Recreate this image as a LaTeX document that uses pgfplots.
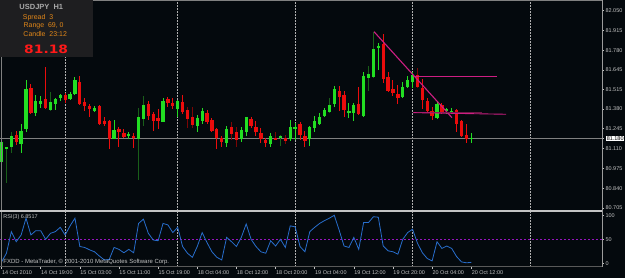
\documentclass[border=0pt]{standalone}
\usepackage{pgfplots}
\pgfplotsset{compat=1.18}
\usepackage{pgfplotstable}
\usepackage{fontspec}
\setmainfont{Liberation Sans}
\newfontfamily\labf{Liberation Sans}
\newfontfamily\bigf[FakeStretch=1.2]{DejaVu Sans}
\definecolor{bg}{RGB}{4,9,13}
\definecolor{boxc}{RGB}{30,30,32}
\definecolor{labgray}{RGB}{195,195,195}
\definecolor{gridc}{RGB}{175,175,175}
\definecolor{bullc}{RGB}{34,222,34}
\definecolor{bearc}{RGB}{235,12,12}
\definecolor{dbull}{RGB}{25,95,25}
\definecolor{dbear}{RGB}{125,5,5}
\definecolor{trend}{RGB}{205,30,130}
\definecolor{trendd}{RGB}{110,25,70}
\definecolor{rsic}{RGB}{40,110,205}
\definecolor{rsifty}{RGB}{150,20,190}
\definecolor{infoorange}{RGB}{225,135,25}
\definecolor{infored}{RGB}{255,25,25}
\definecolor{infogray}{RGB}{170,170,170}
\newcommand\tl{\labf\fontsize{5.5}{6}\selectfont}

\pgfplotstableread{
k o h l c d
-8 81.020 81.169 81.018 81.157 0
-7 81.114 81.117 80.876 81.116 1
-6 81.123 81.225 81.077 81.196 1
-4 81.144 81.276 81.082 81.230 0
-3 81.244 81.578 81.225 81.516 0
-1 81.350 81.475 81.334 81.434 0
0 81.416 81.468 81.385 81.434 0
2 81.371 81.498 81.366 81.426 1
3 81.412 81.457 81.373 81.448 0
4 81.453 81.487 81.434 81.473 0
6 81.450 81.498 81.441 81.480 0
7 81.482 81.600 81.475 81.578 0
11 81.368 81.400 81.357 81.387 0
15 81.180 81.305 81.175 81.237 0
18 81.196 81.225 81.180 81.210 0
20 81.173 81.387 80.896 81.325 1
21 81.312 81.471 81.266 81.407 1
25 81.293 81.453 81.289 81.434 0
28 81.378 81.441 81.327 81.434 0
32 81.264 81.339 81.221 81.319 0
33 81.300 81.385 81.276 81.366 0
38 81.146 81.266 81.123 81.246 0
41 81.175 81.255 81.153 81.237 0
42 81.221 81.327 81.198 81.325 0
47 81.141 81.218 81.123 81.196 0
49 81.184 81.203 81.130 81.196 1
51 81.175 81.305 81.162 81.257 0
52 81.246 81.286 81.169 81.257 0
55 81.173 81.264 81.130 81.257 0
56 81.248 81.332 81.225 81.298 0
57 81.278 81.355 81.271 81.327 0
58 81.330 81.387 81.325 81.375 0
59 81.362 81.457 81.357 81.407 1
60 81.412 81.537 81.396 81.518 0
63 81.357 81.419 81.321 81.368 0
64 81.355 81.419 81.298 81.407 0
66 81.332 81.634 81.327 81.605 0
67 81.593 81.675 81.505 81.618 1
68 81.600 81.907 81.596 81.789 1
69 81.794 81.828 81.646 81.811 0
74 81.462 81.566 81.453 81.528 0
75 81.530 81.605 81.521 81.576 0
76 81.566 81.634 81.521 81.612 0
81 81.321 81.426 81.316 81.416 0
83 81.368 81.385 81.346 81.378 0
84 81.359 81.385 81.348 81.368 0
88 81.180 81.218 81.146 81.182 0
}\bulltab

\pgfplotstableread{
k o h l c d
-5 81.203 81.230 81.135 81.153 0
-2 81.525 81.555 81.344 81.357 0
1 81.448 81.668 81.380 81.385 0
5 81.478 81.487 81.419 81.443 0
8 81.566 81.605 81.407 81.414 0
9 81.426 81.453 81.366 81.400 0
10 81.398 81.416 81.323 81.378 0
12 81.400 81.407 81.271 81.276 0
13 81.298 81.325 81.266 81.276 0
14 81.298 81.303 81.107 81.175 0
16 81.246 81.255 81.123 81.221 0
17 81.218 81.246 81.180 81.191 0
19 81.198 81.214 81.112 81.180 0
22 81.416 81.434 81.305 81.332 0
23 81.346 81.357 81.230 81.298 0
24 81.319 81.378 81.244 81.298 0
26 81.448 81.466 81.396 81.421 0
27 81.419 81.453 81.378 81.400 0
29 81.426 81.475 81.344 81.362 0
30 81.375 81.396 81.252 81.312 1
31 81.325 81.396 81.252 81.271 1
34 81.355 81.373 81.276 81.293 0
35 81.305 81.316 81.225 81.230 0
36 81.246 81.253 81.112 81.180 0
37 81.180 81.198 81.123 81.153 0
39 81.255 81.293 81.169 81.212 1
40 81.225 81.257 81.123 81.169 1
43 81.316 81.325 81.252 81.266 0
44 81.257 81.296 81.198 81.221 0
45 81.218 81.252 81.153 81.175 0
46 81.169 81.184 81.123 81.150 0
48 81.184 81.223 81.169 81.173 1
50 81.184 81.203 81.143 81.164 1
53 81.278 81.293 81.169 81.203 0
54 81.196 81.230 81.123 81.164 0
61 81.505 81.537 81.366 81.464 0
62 81.478 81.505 81.327 81.373 0
65 81.416 81.528 81.340 81.344 0
70 81.823 81.889 81.555 81.582 0
71 81.596 81.634 81.498 81.503 0
72 81.516 81.578 81.471 81.491 0
73 81.484 81.543 81.414 81.453 0
77 81.612 81.657 81.521 81.532 1
78 81.525 81.584 81.380 81.441 0
79 81.434 81.453 81.350 81.371 0
80 81.366 81.396 81.305 81.332 0
82 81.407 81.419 81.346 81.357 0
85 81.373 81.380 81.225 81.278 0
86 81.298 81.305 81.191 81.196 0
87 81.203 81.276 81.150 81.180 0
}\beartab

\pgfplotstableread{
k r
-8 3
-7 21
-6 66
-5 45
-4 59
-3 94
-2 59
-1 68
0 68
1 50
2 62.5
3 66
4 75
5 59
6 78
7 94
8 35
9 33
10 28
11 24
12 15
13 7
14 8
15 33
16 29
17 22
18 29
19 22
20 83
21 92
22 62.5
23 48.5
24 47
25 83
26 80
27 64
28 75
29 35
30 21
31 12.5
32 35
33 64
34 43
35 24
36 12.5
37 7
38 54
39 45
40 35
41 54
42 82
43 50
44 35
45 24
46 21
47 47
48 36
49 50
50 33
51 78
52 76
53 35
54 24
55 66
56 75
57 83
58 89
59 94
60 100
61 69
62 36
63 33
64 54
65 29
66 85
67 85
68 97
69 96
70 36
71 26
72 24
73 19
74 50
75 64
76 71
77 42
78 22
79 10
80 5
81 45
82 31
83 36
84 31
85 14
86 3
87 1
88 2
}\rsitab

\pgfplotsset{
  wick/.style 2 args={draw=none, mark=none, forget plot,
    restrict expr to domain={\thisrow{d}}{#2:#2},
    error bars/.cd, y dir=both, y explicit, error mark=none,
    error bar style={line width=1bp, draw=#1, solid}},
  body/.style={draw=none, mark=none, forget plot,
    error bars/.cd, y dir=both, y explicit, error mark=none,
    error bar style={line width=3.3bp, draw=#1, solid}},
}

\begin{document}
\begin{tikzpicture}[x=1bp,y=1bp]
\fill[bg] (0,0) rectangle (625,278);

\begin{axis}[
  at={(0bp,67.3bp)}, anchor=south west, scale only axis,
  width=602bp, height=210.7bp,
  xmin=-8.318, xmax=114.72, ymin=80.6866, ymax=82.1229,
  axis line style={draw=none}, clip=false,
  xtick={5,28,52,76,100}, xticklabels={}, xtick style={draw=none},
  xmajorgrids,
  grid style={gridc, dash pattern=on 1.5bp off 1.5bp, line width=0.7bp},
  ytick={80.705,80.840,80.975,81.110,81.245,81.380,81.515,81.645,81.780,81.915,82.050},
  yticklabels={80.705,80.840,80.975,81.110,81.245,81.380,81.515,81.645,81.780,81.915,82.050},
  ytick pos=right, yticklabel pos=right, tick align=outside,
  major tick length=2.2bp,
  ytick style={labgray, line width=0.6bp},
  yticklabel style={font=\tl, text=labgray, inner sep=0pt, xshift=1.2bp},
  extra y ticks={81.18}, extra y tick labels={81.180},
  extra y tick style={yticklabel style={fill=white, text=black, inner sep=0.6bp, xshift=0.6bp}},
]
\addplot[gray, line width=0.8bp, forget plot] coordinates {(-8.318,81.18) (114.72,81.18)};
% wicks
\addplot[wick={bullc}{0}] table[x=k, y expr={(\thisrow{h}+\thisrow{l})/2}, y error expr={(\thisrow{h}-\thisrow{l})/2}] {\bulltab};
\addplot[wick={dbull}{1}] table[x=k, y expr={(\thisrow{h}+\thisrow{l})/2}, y error expr={(\thisrow{h}-\thisrow{l})/2}] {\bulltab};
\addplot[wick={bearc}{0}] table[x=k, y expr={(\thisrow{h}+\thisrow{l})/2}, y error expr={(\thisrow{h}-\thisrow{l})/2}] {\beartab};
\addplot[wick={dbear}{1}] table[x=k, y expr={(\thisrow{h}+\thisrow{l})/2}, y error expr={(\thisrow{h}-\thisrow{l})/2}] {\beartab};
% bodies
\addplot[body=bullc] table[x=k, y expr={(\thisrow{o}+\thisrow{c})/2}, y error expr={max(abs(\thisrow{o}-\thisrow{c})/2,0.0035)}] {\bulltab};
\addplot[body=bearc] table[x=k, y expr={(\thisrow{o}+\thisrow{c})/2}, y error expr={max(abs(\thisrow{o}-\thisrow{c})/2,0.0035)}] {\beartab};
% drawn lines
\addplot[trend, line width=1.1bp, forget plot] coordinates {(68.12,81.907) (84.05,81.321)};
\addplot[trend, line width=1bp, forget plot] coordinates {(76.15,81.603) (93.2,81.603)};
\addplot[trendd, line width=1.3bp, forget plot] coordinates {(76.15,81.357) (90.2,81.357)};
\addplot[trend, line width=0.9bp, forget plot] coordinates {(76.15,81.355) (95.1,81.344)};
\end{axis}

\begin{axis}[
  at={(0bp,11.5bp)}, anchor=south west, scale only axis,
  width=602bp, height=55bp,
  xmin=-8.318, xmax=114.72, ymin=-6.67, ymax=107.9,
  axis line style={draw=none}, clip=false,
  xtick={-8,0,8,16,24,32,40,48,56,64,72,80,88},
  xticklabels={14 Oct 2010,14 Oct 19:00,15 Oct 03:00,15 Oct 11:00,15 Oct 19:00,18 Oct 04:00,18 Oct 12:00,18 Oct 20:00,19 Oct 04:00,19 Oct 12:00,19 Oct 20:00,20 Oct 04:00,20 Oct 12:00},
  xtick pos=bottom, tick align=outside, major tick length=2.2bp,
  xtick style={labgray, line width=0.6bp},
  xticklabel style={font=\tl, text=labgray, anchor=north west, inner sep=0pt, yshift=-2.2bp, xshift=0.3bp},
  extra x ticks={5,28,52,76,100}, extra x tick labels={},
  extra x tick style={grid=major, major tick length=0pt},
  grid style={gridc, dash pattern=on 1.5bp off 1.5bp, line width=0.7bp},
  ytick={0,50,100}, yticklabels={0,50,100},
  ytick pos=right, yticklabel pos=right,
  ytick style={labgray, line width=0.6bp},
  yticklabel style={font=\tl, text=labgray, inner sep=0pt, xshift=1.2bp},
]
\addplot[rsifty, dash pattern=on 2bp off 2bp, line width=0.7bp, forget plot] coordinates {(-8.318,50) (114.72,50)};
\addplot[rsic, line width=0.8bp, mark=none] table[x=k, y=r] {\rsitab};
\end{axis}

% frame
\draw[gray, line width=0.8bp] (1.3,277.5) -- (1.3,11.5);
\draw[gray, line width=0.6bp] (0,277.6) -- (602.3,277.6);
\draw[labgray!80!black, line width=0.8bp] (602.3,278) -- (602.3,11.5);
\draw[labgray, line width=2bp] (0,67.3) -- (602.3,67.3);
\draw[gray!70!black, line width=0.6bp] (0,11.5) -- (602.3,11.5);

% info box
\fill[boxc] (0,278) rectangle (93,221);
\node[anchor=west, inner sep=0pt, text=infogray] at (19.3,270.7) {\fontsize{7.5}{8}\selectfont\bfseries USDJPY\ \ H1};
\node[anchor=west, inner sep=0pt, text=infoorange] at (22.7,260.3) {\fontsize{7}{8}\selectfont Spread\ \ 3};
\node[anchor=west, inner sep=0pt, text=infoorange] at (23.5,252) {\fontsize{7}{8}\selectfont Range\ \ 69,\ 0};
\node[anchor=west, inner sep=0pt, text=infoorange] at (23.3,243.7) {\fontsize{7}{8}\selectfont Candle\ \ 23:12};
\node[anchor=west, inner sep=0pt, text=infored] at (24,228.7) {\bigf\fontsize{11.6}{12}\selectfont\bfseries 81.18};

% indicator texts
\node[anchor=west, inner sep=0pt, text=labgray] at (3.3,60.7) {\tl RSI(3) 6.8517};
\node[anchor=west, inner sep=0pt, text=labgray] at (3.3,15.7) {\labf\fontsize{6}{7}\selectfont FXDD - MetaTrader, © 2001-2010 MetaQuotes Software Corp.};

\pgfresetboundingbox
\useasboundingbox (0,0) rectangle (625,278);
\end{tikzpicture}
\end{document}
